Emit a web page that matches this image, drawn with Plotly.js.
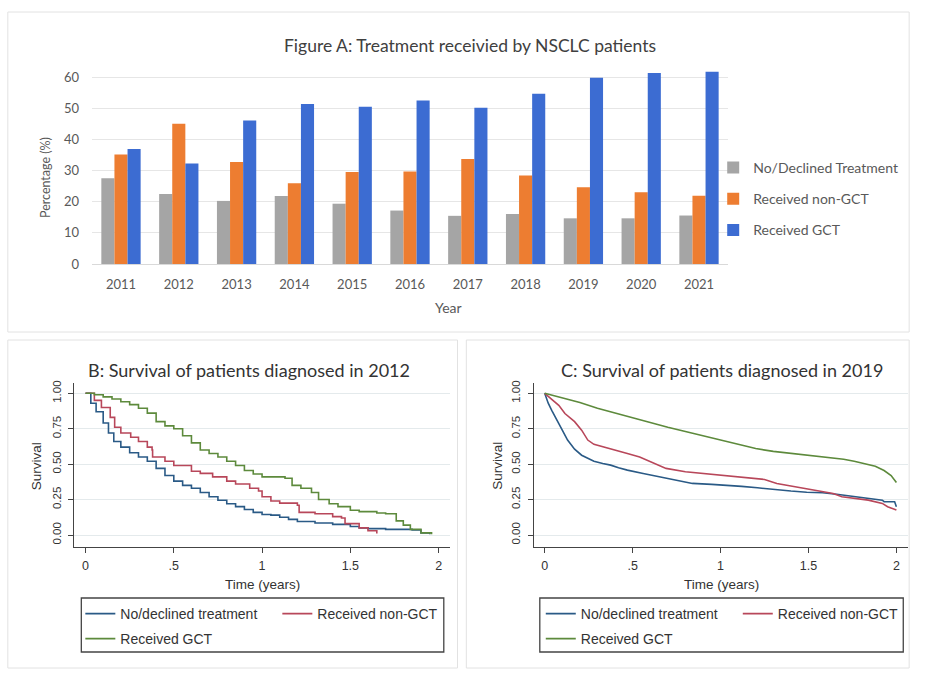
<!DOCTYPE html>
<html>
<head>
<meta charset="utf-8">
<script src="https://cdn.plot.ly/plotly-3.0.1.min.js"></script>
<style>html,body{margin:0;padding:0;background:#fff;overflow:hidden;}#chart{width:100vw;height:100vh;}</style>
</head>
<body>
<div id="chart"></div>
<script>
// ---------- Data: Figure A ----------
const years = ['2011','2012','2013','2014','2015','2016','2017','2018','2019','2020','2021'];
const noDeclined = [27.6, 22.5, 20.3, 21.9, 19.4, 17.2, 15.5, 16.1, 14.7, 14.7, 15.6];
const nonGCT     = [35.2, 45.1, 32.8, 26.0, 29.6, 29.8, 33.8, 28.5, 24.7, 23.1, 22.0];
const receivedGCT= [37.0, 32.3, 46.2, 51.5, 50.6, 52.6, 50.3, 54.8, 59.9, 61.5, 61.9];

// ---------- Data: Figure B (diagnosed 2012) ----------
const t2012None = [0,.03,.06,.10,.13,.16,.20,.25,.30,.35,.40,.45,.50,.55,.60,.65,.70,.75,.80,.85,.90,.95,1.00,1.05,1.10,1.15,1.20,1.30,1.40,1.50,1.55,1.60,1.70,1.80,1.85,1.90,1.95];
const s2012None = [1,.93,.87,.79,.72,.66,.62,.58,.55,.52,.47,.42,.38,.35,.33,.30,.27,.245,.22,.20,.18,.16,.145,.14,.125,.11,.095,.085,.075,.06,.05,.045,.04,.04,.035,.015,.005];
const t2012NonGct = [0,.05,.09,.14,.165,.20,.256,.30,.35,.377,.38,.45,.50,.60,.65,.72,.80,.85,.93,.98,1.00,1.05,1.10,1.20,1.21,1.30,1.40,1.45,1.47,1.55,1.60,1.65];
const s2012NonGct = [1,.95,.90,.83,.76,.72,.69,.66,.62,.60,.55,.52,.49,.45,.435,.41,.38,.36,.33,.31,.27,.24,.225,.21,.16,.15,.13,.12,.08,.05,.03,.01];
const t2012Gct = [0,.05,.10,.15,.20,.25,.30,.35,.40,.45,.50,.55,.60,.65,.70,.75,.80,.85,.90,.95,1.00,1.10,1.13,1.17,1.22,1.28,1.32,1.38,1.43,1.50,1.55,1.65,1.70,1.76,1.80,1.84,1.90,1.96];
const s2012Gct = [1,.99,.975,.96,.94,.92,.895,.86,.80,.77,.75,.70,.65,.60,.575,.55,.52,.49,.455,.43,.41,.41,.40,.35,.33,.30,.25,.22,.20,.175,.165,.155,.15,.10,.07,.04,.015,.005];

// ---------- Data: Figure C (diagnosed 2019) ----------
const t2019None = [0,.02,.04,.06,.08,.10,.13,.17,.21,.245,.28,.33,.375,.42,.47,.56,.65,.75,.84,.95,1.03,1.12,1.21,1.30,1.40,1.49,1.58,1.66,1.73,1.84,1.92,1.93,1.99,2.0];
const s2019None = [1,.93,.88,.83,.785,.74,.67,.606,.563,.54,.52,.505,.493,.475,.458,.434,.41,.383,.364,.357,.352,.343,.333,.32,.31,.302,.298,.288,.277,.258,.246,.235,.235,.20];
const t2019NonGct = [0,.04,.08,.115,.17,.21,.245,.28,.375,.47,.54,.62,.69,.80,.95,1.10,1.25,1.32,1.43,1.55,1.64,1.69,1.77,1.84,1.92,1.95,2.0];
const s2019NonGct = [1,.96,.915,.857,.80,.74,.67,.64,.61,.575,.55,.505,.47,.446,.427,.41,.392,.364,.34,.31,.293,.27,.258,.246,.223,.20,.176];
const t2019Gct = [0,.1,.2,.3,.4,.5,.6,.7,.8,.9,1.0,1.1,1.2,1.3,1.4,1.5,1.6,1.7,1.76,1.82,1.88,1.93,1.97,2.0];
const s2019Gct = [1,.97,.935,.895,.86,.825,.79,.76,.73,.70,.67,.64,.61,.59,.575,.56,.545,.535,.52,.505,.485,.455,.42,.37];

const barNames = ['No/Declined Treatment','Received non-GCT','Received GCT'];
const survNames = ['No/declined treatment','Received non-GCT','Received GCT'];

// ---------- helpers (reference pixel -> paper fraction) ----------
const RW = 935, RH = 677;
const px = v => v / RW;
const py = v => 1 - v / RH;

const barColors = ['#A5A5A5', '#ED7D31', '#3C6CD2'];
const kmColors = ['#2a5a86', '#b8475a', '#5d8a3c'];
const calib = 'Lato, "Open Sans", sans-serif';
const arial = '"Liberation Sans", Arial, sans-serif';

const traces = [];
[noDeclined, nonGCT, receivedGCT].forEach((vals, i) => {
  traces.push({
    type: 'bar', x: years, y: vals, xaxis: 'x', yaxis: 'y',
    name: barNames[i], marker: {color: barColors[i]}, legend: 'legend', legendgroup: 'g' + i,
    hoverinfo: 'skip'
  });
});

function km(t, s, i, xa, ya, lg, shape) {
  return {type: 'scatter', mode: 'lines', x: t, y: s, xaxis: xa, yaxis: ya,
    name: survNames[i], line: {color: kmColors[i], width: 1.6, shape: shape}, legend: lg, hoverinfo: 'skip'};
}
traces.push(km(t2012None, s2012None, 0, 'x2', 'y2', 'legend2', 'hv'));
traces.push(km(t2012NonGct, s2012NonGct, 1, 'x2', 'y2', 'legend2', 'hv'));
traces.push(km(t2012Gct, s2012Gct, 2, 'x2', 'y2', 'legend3', 'hv'));
traces.push(km(t2019None, s2019None, 0, 'x3', 'y3', 'legend4', 'linear'));
traces.push(km(t2019NonGct, s2019NonGct, 1, 'x3', 'y3', 'legend4', 'linear'));
traces.push(km(t2019Gct, s2019Gct, 2, 'x3', 'y3', 'legend5', 'linear'));

const kmX = (dom, range) => ({
  domain: dom, range: range, tickvals: [0, .5, 1, 1.5, 2], ticktext: ['0', '.5', '1', '1.5', '2'],
  ticks: 'outside', ticklen: 5, tickcolor: '#444', showline: true, linecolor: '#444', linewidth: 1,
  showgrid: false, zeroline: false, tickfont: {family: arial, size: 12.5, color: '#333'}, ticklabelstandoff: 2
});
const kmY = (dom, anchor) => ({
  domain: dom, range: [-0.0847, 1.0727], anchor: anchor,
  tickvals: [0, .25, .5, .75, 1], ticktext: ['0.00', '0.25', '0.50', '0.75', '1.00'], tickangle: -90,
  ticks: 'outside', ticklen: 5, tickcolor: '#444', showline: true, linecolor: '#444', linewidth: 1,
  showgrid: true, gridcolor: '#e4eaec', gridwidth: 1, zeroline: false,
  tickfont: {family: arial, size: 11.5, color: '#333'}, ticklabelstandoff: 3
});

const kmLegend = (x, y) => ({
  x: px(x), y: py(y), xanchor: 'left', yanchor: 'middle', orientation: 'h',
  bgcolor: 'rgba(0,0,0,0)', borderwidth: 0, entrywidth: 152,
  font: {family: arial, size: 14, color: '#333'}
});

const layout = {
  autosize: true, margin: {l: 0, r: 0, t: 0, b: 0, pad: 0},
  paper_bgcolor: '#ffffff', plot_bgcolor: 'rgba(0,0,0,0)',
  barmode: 'group', bargap: 0.32, bargroupgap: 0,
  xaxis: {domain: [px(94), px(743)], anchor: 'y', type: 'category', showgrid: false,
    showline: true, linecolor: '#d9d9d9', ticks: '', tickfont: {family: calib, size: 13, color: '#595959'},
    ticklabelstandoff: 8},
  yaxis: {domain: [py(264), py(62)], anchor: 'x', range: [0, 65], tickvals: [0,10,20,30,40,50,60],
    showgrid: true, gridcolor: '#e6e6e6', zeroline: false, showline: false,
    tickfont: {family: calib, size: 13, color: '#595959'}, ticklabelstandoff: 12},
  xaxis2: Object.assign(kmX([px(76), px(459)], [-0.0627, 2.0627]), {anchor: 'y2'}),
  yaxis2: kmY([py(547), py(383)], 'x2'),
  xaxis3: Object.assign(kmX([px(545), px(927)], [-0.0613, 2.0669]), {anchor: 'y3'}),
  yaxis3: kmY([py(547), py(383)], 'x3'),
  legend: {x: px(728), y: py(152), xanchor: 'left', yanchor: 'top', orientation: 'v',
    bgcolor: 'rgba(0,0,0,0)', tracegroupgap: 10, font: {family: calib, size: 14, color: '#595959'}},
  legend2: kmLegend(82, 614),
  legend3: kmLegend(82, 639),
  legend4: kmLegend(552, 614),
  legend5: kmLegend(552, 639),
  shapes: [
    {type: 'rect', xref: 'paper', yref: 'paper', x0: px(8), x1: px(928), y0: py(12), y1: py(332), line: {color: '#e2e2e2', width: 1}},
    {type: 'rect', xref: 'paper', yref: 'paper', x0: px(8), x1: px(467), y0: py(340), y1: py(668), line: {color: '#e2e2e2', width: 1}},
    {type: 'rect', xref: 'paper', yref: 'paper', x0: px(476), x1: px(928), y0: py(340), y1: py(668), line: {color: '#e2e2e2', width: 1}},
    {type: 'rect', xref: 'paper', yref: 'paper', x0: px(83), x1: px(453), y0: py(598), y1: py(652), line: {color: '#444', width: 1.3}},
    {type: 'rect', xref: 'paper', yref: 'paper', x0: px(551), x1: px(922), y0: py(598), y1: py(652), line: {color: '#444', width: 1.3}}
  ],
  annotations: [
    {text: 'Figure A: Treatment receivied by NSCLC patients', xref: 'paper', yref: 'paper', x: px(480), y: py(46),
      showarrow: false, xanchor: 'center', yanchor: 'middle', font: {family: calib, size: 17.5, color: '#404040'}},
    {text: 'Percentage (%)', xref: 'paper', yref: 'paper', x: px(47), y: py(178), textangle: -90,
      showarrow: false, xanchor: 'center', yanchor: 'middle', font: {family: calib, size: 12.5, color: '#595959'}},
    {text: 'Year', xref: 'paper', yref: 'paper', x: px(458), y: py(307),
      showarrow: false, xanchor: 'center', yanchor: 'middle', font: {family: calib, size: 14, color: '#595959'}},
    {text: 'B: Survival of patients diagnosed in 2012', xref: 'paper', yref: 'paper', x: px(254), y: py(370),
      showarrow: false, xanchor: 'center', yanchor: 'middle', font: {family: calib, size: 18, color: '#333'}},
    {text: 'C: Survival of patients diagnosed in 2019', xref: 'paper', yref: 'paper', x: px(737), y: py(370),
      showarrow: false, xanchor: 'center', yanchor: 'middle', font: {family: calib, size: 18, color: '#333'}},
    {text: 'Survival', xref: 'paper', yref: 'paper', x: px(37), y: py(466), textangle: -90,
      showarrow: false, xanchor: 'center', yanchor: 'middle', font: {family: arial, size: 13.5, color: '#333'}},
    {text: 'Survival', xref: 'paper', yref: 'paper', x: px(507), y: py(466), textangle: -90,
      showarrow: false, xanchor: 'center', yanchor: 'middle', font: {family: arial, size: 13.5, color: '#333'}},
    {text: 'Time (years)', xref: 'paper', yref: 'paper', x: px(268), y: py(584),
      showarrow: false, xanchor: 'center', yanchor: 'middle', font: {family: arial, size: 13.5, color: '#333'}},
    {text: 'Time (years)', xref: 'paper', yref: 'paper', x: px(736), y: py(584),
      showarrow: false, xanchor: 'center', yanchor: 'middle', font: {family: arial, size: 13.5, color: '#333'}}
  ]
};

Plotly.newPlot('chart', traces, layout, {displayModeBar: false, staticPlot: true, responsive: true});
</script>
</body>
</html>
